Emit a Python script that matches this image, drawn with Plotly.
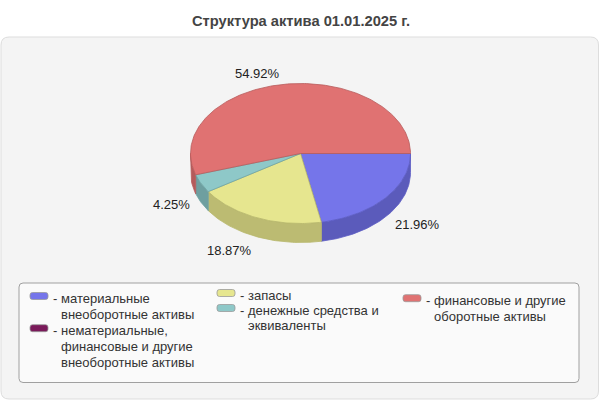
import numpy as np
import plotly.graph_objects as go

# ---- data ----
title = "Структура актива 01.01.2025 г."
categories = [
    "материальные\nвнеоборотные активы",
    "нематериальные,\nфинансовые и другие\nвнеоборотные активы",
    "запасы",
    "денежные средства и\nэквиваленты",
    "финансовые и другие\nоборотные активы",
]
shares = [21.96, 0.00, 18.87, 4.25, 54.92]
top_colors = ["#7575ea", "#7a1a5a", "#e6e68f", "#8ec8c8", "#e07272"]
side_colors = ["#5b5bbb", "#5a1243", "#bcbb72", "#6e9fa0", "#b45b5b"]
edge_colors = ["#5d5dc4", "#5a1243", "#b8b86c", "#6ea3a3", "#b85c5c"]

# ---- geometry (pixel space) ----
W, H = 600, 400
cx, cy = 300.5, 153.5
rx, ry = 110, 70
depth = 19
FONT = "Arial, 'Liberation Sans', sans-serif"

fig = go.Figure()

total = sum(shares)
bounds = np.concatenate([[0], np.cumsum(shares)]) / total * 2 * np.pi

def arc(t1, t2, n=None):
    n = n or max(2, int(abs(t2 - t1) / (np.pi / 180)) + 2)
    t = np.linspace(t1, t2, n)
    return cx + rx * np.cos(t), cy + ry * np.sin(t)

# side walls (front half only: 0..pi)
for i, s in enumerate(shares):
    if s <= 0:
        continue
    t1, t2 = bounds[i], bounds[i + 1]
    a, b = max(t1, 0), min(t2, np.pi)
    if b <= a:
        continue
    xs, ys = arc(a, b)
    px = np.concatenate([xs, xs[::-1], xs[:1]])
    py = np.concatenate([ys, ys[::-1] + depth, ys[:1]])
    fig.add_trace(go.Scatter(x=px, y=py, mode="lines", fill="toself",
                             fillcolor=side_colors[i],
                             line=dict(color=edge_colors[i], width=0.8),
                             hoverinfo="skip", showlegend=False))

# top faces
for i, s in enumerate(shares):
    if s <= 0:
        continue
    t1, t2 = bounds[i], bounds[i + 1]
    xs, ys = arc(t1, t2)
    px = np.concatenate([[cx], xs, [cx]])
    py = np.concatenate([[cy], ys, [cy]])
    fig.add_trace(go.Scatter(x=px, y=py, mode="lines", fill="toself",
                             fillcolor=top_colors[i],
                             line=dict(color=edge_colors[i], width=0.8),
                             hoverinfo="skip", showlegend=False))

annotations = []
# percentage labels
lab_a, lab_b, lab_c = 120, 93, 165
for i, s in enumerate(shares):
    if s <= 0:
        continue
    tm = (bounds[i] + bounds[i + 1]) / 2
    lx = cx + lab_a * np.cos(tm)
    ly = lab_c + lab_b * np.sin(tm)
    annotations.append(dict(x=lx, y=ly, xref="x", yref="y", text=f"{s:.2f}%",
                            showarrow=False, xanchor="left" if np.cos(tm) >= 0 else "right",
                            yanchor="middle", font=dict(family=FONT, size=13, color="#222")))

shapes = []
def rrect(x0, y0, x1, y1, r):
    return (f"M{x0+r},{y0} L{x1-r},{y0} Q{x1},{y0} {x1},{y0+r} L{x1},{y1-r} "
            f"Q{x1},{y1} {x1-r},{y1} L{x0+r},{y1} Q{x0},{y1} {x0},{y1-r} "
            f"L{x0},{y0+r} Q{x0},{y0} {x0+r},{y0} Z")

# outer panel and legend box
shapes.append(dict(type="path", path=rrect(1, 37, 598.5, 399, 8), xref="x", yref="y",
                   fillcolor="#f4f4f4", line=dict(color="#dddddd", width=1), layer="below"))
shapes.append(dict(type="path", path=rrect(19, 283, 579, 382.5, 4), xref="x", yref="y",
                   fillcolor="#fafafa", line=dict(color="#a0a0a0", width=1), layer="below"))

# legend layout: (swatch x-left, first line y, line spacing)
leg_pos = [(30, 298.5, 16), (30, 330.7, 16), (217, 295.5, 16), (217, 310.5, 14.6), (403, 300.7, 16)]
for i, name in enumerate(categories):
    x0, y0, sp = leg_pos[i]
    sw, sh = 18, 7
    sy = y0 - 2.5
    shapes.append(dict(type="path", path=rrect(x0, sy - sh / 2, x0 + sw, sy + sh / 2, 2.5),
                       xref="x", yref="y", fillcolor=top_colors[i],
                       line=dict(color="#9a9a9a", width=0.8)))
    annotations.append(dict(x=x0 + sw + 2.5, y=y0, xref="x", yref="y", text="-",
                            showarrow=False, xanchor="left", yanchor="middle",
                            font=dict(family=FONT, size=13, color="#333")))
    for j, line in enumerate(name.split("\n")):
        annotations.append(dict(x=x0 + sw + 10.5, y=y0 + j * sp, xref="x", yref="y", text=line,
                                showarrow=False, xanchor="left", yanchor="middle",
                                font=dict(family=FONT, size=13, color="#333")))

annotations.append(dict(x=300.5, y=20.5, xref="x", yref="y", text=f"<b>{title}</b>",
                        showarrow=False, xanchor="center", yanchor="middle",
                        font=dict(family=FONT, size=14.7, color="#444")))

fig.update_layout(
    width=W, height=H, margin=dict(l=0, r=0, t=0, b=0),
    paper_bgcolor="white", plot_bgcolor="rgba(0,0,0,0)",
    xaxis=dict(range=[0, W], visible=False, fixedrange=True),
    yaxis=dict(range=[H, 0], visible=False, fixedrange=True),
    shapes=shapes, annotations=annotations, hovermode=False, showlegend=False,
)

fig.write_html("out.html", config={"displayModeBar": False},
               post_script="document.body.style.margin='0';document.body.style.overflow='hidden';")
